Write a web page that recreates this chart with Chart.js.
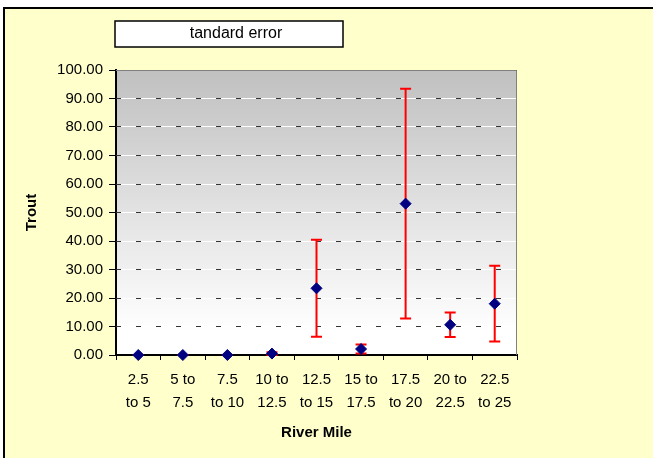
<!DOCTYPE html>
<html>
<head>
<meta charset="utf-8">
<script src="https://cdn.jsdelivr.net/npm/chart.js@4.4.1/dist/chart.umd.min.js"></script>
<style>
    html, body { margin: 0; padding: 0; background: #ffffff; }
    #contenedor { position: relative; width: 653px; height: 458px; }
</style>
</head>
<body>
<div id="contenedor"><canvas id="grafico" width="653" height="458"></canvas></div>
<script>
// Datos
const categorias = [
    ['2.5', 'to 5'], ['5 to', '7.5'], ['7.5', 'to 10'], ['10 to', '12.5'], ['12.5', 'to 15'],
    ['15 to', '17.5'], ['17.5', 'to 20'], ['20 to', '22.5'], ['22.5', 'to 25']
];
const medias = [0, 0, 0, 0.5, 23.4, 2.1, 53.1, 10.6, 18.0];
const errores = [0, 0, 0, 0.5, 17.0, 1.6, 40.3, 4.3, 13.3];
const etiquetasY = ['0.00', '10.00', '20.00', '30.00', '40.00', '50.00', '60.00', '70.00', '80.00', '90.00', '100.00'];

const tituloCaja = 'tandard error';
const tituloX = 'River Mile';
const tituloY = 'Trout';

const fuente = "'Liberation Sans', Arial, sans-serif";
Chart.defaults.font.family = fuente;
Chart.defaults.color = '#000000';

// Fondo amarillo, marco, degradado del area y caja del titulo
const fondo = {
    id: 'fondo',
    beforeDraw(chart) {
        const { ctx, chartArea: a, width, height } = chart;
        ctx.save();
        ctx.fillStyle = '#ffffff';
        ctx.fillRect(0, 0, width, height);
        ctx.fillStyle = '#ffffcc';
        ctx.fillRect(4, 8, width - 4, height - 8);
        ctx.strokeStyle = '#000000';
        ctx.lineWidth = 2;
        ctx.beginPath();
        ctx.moveTo(4, height);
        ctx.lineTo(4, 8);
        ctx.lineTo(width, 8);
        ctx.stroke();

        const grad = ctx.createLinearGradient(0, a.top, 0, a.bottom);
        grad.addColorStop(0, '#c0c0c0');
        grad.addColorStop(0.92, '#ffffff');
        grad.addColorStop(1, '#ffffff');
        ctx.fillStyle = grad;
        ctx.fillRect(a.left, a.top, a.right - a.left, a.bottom - a.top);

        // caja del titulo
        ctx.fillStyle = '#ffffff';
        ctx.fillRect(115, 21, 228, 26);
        ctx.lineWidth = 1.5;
        ctx.strokeRect(115, 21, 228, 26);
        ctx.fillStyle = '#000000';
        ctx.font = '16px ' + fuente;
        ctx.textAlign = 'center';
        ctx.textBaseline = 'middle';
        ctx.fillText(tituloCaja, 236, 34);
        ctx.restore();
    }
};

// Lineas punteadas, borde gris y barras de error
const errorBars = {
    id: 'errorBars',
    beforeDatasetsDraw(chart) {
        const { ctx, chartArea: a, scales } = chart;
        const y = scales.y;
        ctx.save();
        ctx.strokeStyle = '#333333';
        ctx.lineWidth = 1;
        ctx.setLineDash([5, 15]);
        y.ticks.forEach(t => {
            if (t.value === 0) return;
            const py = Math.floor(y.getPixelForValue(t.value)) + 0.5;
            ctx.beginPath();
            ctx.moveTo(a.left, py);
            ctx.lineTo(a.right, py);
            ctx.stroke();
        });
        ctx.setLineDash([]);
        ctx.strokeStyle = '#808080';
        ctx.beginPath();
        ctx.moveTo(a.left, a.top + 0.5);
        ctx.lineTo(a.right - 0.5, a.top + 0.5);
        ctx.lineTo(a.right - 0.5, a.bottom);
        ctx.stroke();

        const meta = chart.getDatasetMeta(0);
        ctx.strokeStyle = '#ff0000';
        ctx.lineWidth = 2;
        meta.data.forEach((pt, i) => {
            const yArriba = y.getPixelForValue(medias[i] + errores[i]);
            const yAbajo = y.getPixelForValue(Math.max(0, medias[i] - errores[i]));
            ctx.beginPath();
            ctx.moveTo(pt.x, yArriba);
            ctx.lineTo(pt.x, yAbajo);
            ctx.moveTo(pt.x - 5.5, yArriba);
            ctx.lineTo(pt.x + 5.5, yArriba);
            ctx.moveTo(pt.x - 5.5, yAbajo);
            ctx.lineTo(pt.x + 5.5, yAbajo);
            ctx.stroke();
        });
        ctx.restore();
    }
};

const ctx = document.getElementById('grafico').getContext('2d');
new Chart(ctx, {
    type: 'line',
    data: {
        labels: categorias,
        datasets: [{
            label: 'Trout',
            data: medias,
            showLine: false,
            pointStyle: 'rectRot',
            pointRadius: 5.5,
            pointHoverRadius: 5.5,
            pointBackgroundColor: '#000080',
            pointBorderColor: '#000080',
            pointBorderWidth: 1,
            clip: false
        }]
    },
    options: {
        responsive: false,
        animation: false,
        layout: { padding: { top: 70, right: 136, left: 0, bottom: 0 } },
        plugins: {
            legend: { display: false },
            tooltip: { enabled: false }
        },
        scales: {
            x: {
                offset: true,
                afterFit(scale) { scale.height = 103; },
                grid: {
                    offset: true,
                    drawOnChartArea: false,
                    tickLength: 5,
                    tickColor: '#000000'
                },
                border: { display: true, color: '#000000', width: 2 },
                ticks: {
                    maxRotation: 0,
                    autoSkip: false,
                    padding: 9,
                    font: { size: 15, lineHeight: 1.5 }
                },
                title: {
                    display: true,
                    text: tituloX,
                    font: { size: 15, weight: 'bold' },
                    padding: { top: 0, bottom: 16 }
                }
            },
            y: {
                min: 0,
                max: 100,
                afterFit(scale) { scale.width = 116; },
                grid: {
                    color: '#ffffff',
                    lineWidth: 1,
                    tickLength: 7,
                    tickColor: '#000000'
                },
                border: { display: true, color: '#000000', width: 2 },
                ticks: {
                    stepSize: 10,
                    padding: 6,
                    font: { size: 15 },
                    callback: function(value, index) {
                        return etiquetasY[index];
                    }
                },
                title: {
                    display: true,
                    text: tituloY,
                    font: { size: 15, weight: 'bold' },
                    padding: { top: 23, bottom: 0 }
                }
            }
        }
    },
    plugins: [fondo, errorBars]
});
</script>
</body>
</html>
